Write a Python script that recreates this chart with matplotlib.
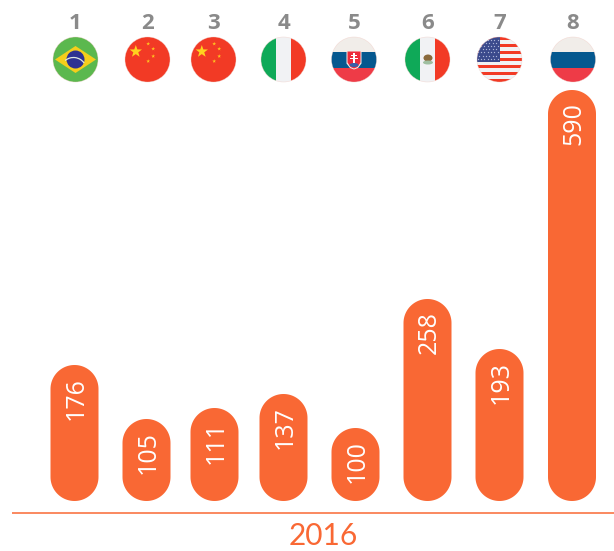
import numpy as np
import matplotlib
matplotlib.use("Agg")
import matplotlib.pyplot as plt
from matplotlib.patches import Circle, Polygon, Rectangle, Ellipse, Arc

ranks = ["1", "2", "3", "4", "5", "6", "7", "8"]
flags = ["brazil", "china", "china", "italy", "slovakia", "mexico", "usa", "russia"]
values = [176, 105, 111, 137, 100, 258, 193, 590]
# Bar heights (the original is not strictly proportional)
bar_heights = [136, 82, 93, 107, 73, 202, 152, 411]
year = "2016"

bar_x = [74.5, 146.5, 214.5, 283.5, 355.5, 427.5, 499.5, 572]
flag_x = [75.5, 147.5, 213.5, 283.5, 354, 427.5, 499.5, 573]
BASE = 501
BAR_W = 48
FLAG_Y = 59.5
R = 22.5
ORANGE = "#F96834"
GRAY = "#8A8A8A"
RED = "#F23A25"
GREEN = "#0FA958"
WHITE = "#F1F2F4"
BLUE = "#05588F"
FONT = "Open Sans"

fig = plt.figure(figsize=(6.14, 5.51), dpi=100)
ax = fig.add_axes([0, 0, 1, 1])
ax.set_xlim(0, 614)
ax.set_ylim(551, 0)
ax.axis("off")


def pill(x, top, bottom, w, color):
    r = w / 2
    a = np.linspace(np.pi, 2 * np.pi, 60)
    upper = np.c_[x + r * np.cos(a), top + r + r * np.sin(a)]
    a2 = np.linspace(0, np.pi, 60)
    lower = np.c_[x + r * np.cos(a2), bottom - r + r * np.sin(a2)]
    return Polygon(np.r_[upper, lower], closed=True, fc=color, ec="none", zorder=2)


def star(cx, cy, r, color, z):
    ang = -np.pi / 2 + np.arange(10) * np.pi / 5
    rad = np.where(np.arange(10) % 2 == 0, r, r * 0.4)
    return Polygon(np.c_[cx + rad * np.cos(ang), cy + rad * np.sin(ang)],
                   closed=True, fc=color, ec="none", zorder=z)


def add(clip, *patches):
    for p in patches:
        ax.add_patch(p)
        p.set_clip_path(clip)


def rect(x0, y0, x1, y1, c, z=3):
    return Rectangle((x0, y0), x1 - x0, y1 - y0, fc=c, ec="none", zorder=z)


def draw_flag(kind, cx, cy):
    clip = Circle((cx, cy), R, transform=ax.transData)
    L, T = cx - R - 1, cy - R - 1
    Rt, B = cx + R + 1, cy + R + 1
    if kind == "brazil":
        add(clip, rect(L, T, Rt, B, "#5BB84E"),
            Polygon([(cx - 20.5, cy), (cx, cy - 13.5), (cx + 20.5, cy), (cx, cy + 13.5)],
                    fc="#F5CE1B", ec="none", zorder=4),
            Circle((cx, cy), 9, fc="#2E3192", ec="none", zorder=5),
            Arc((cx - 2, cy + 11), 26, 26, theta1=-130, theta2=-35, color="#DDE8E0", lw=0.9, zorder=6))
    elif kind == "china":
        add(clip, rect(L, T, Rt, B, RED), star(cx - 11.7, cy - 8, 6.5, "#FFD21F", 4))
        for dx, dy in [(0.7, -15.7), (5.7, -10.7), (5.7, -3.3), (0.7, 1.7)]:
            add(clip, star(cx + dx, cy + dy, 2, "#FFC21F", 4))
    elif kind in ("italy", "mexico"):
        add(clip, rect(L, T, cx - 7.5, B, GREEN), rect(cx - 7.5, T, cx + 7.5, B, WHITE),
            rect(cx + 7.5, T, Rt, B, RED))
        if kind == "mexico":
            add(clip, Ellipse((cx + 0.5, cy - 1.5), 9, 7, fc="#8A6A3C", ec="none", zorder=5),
                Ellipse((cx + 0.5, cy + 3), 10, 4, fc="#9FBFA0", ec="none", zorder=5))
    elif kind in ("slovakia", "russia"):
        add(clip, rect(L, T, Rt, cy - 7.5, "#F1EDE9"), rect(L, cy - 7.5, Rt, cy + 8, BLUE),
            rect(L, cy + 8, Rt, B, "#EE3B47"))
        if kind == "slovakia":
            add(clip,
                Polygon([(cx - 7.5, cy - 9), (cx + 7.5, cy - 9), (cx + 7.5, cy + 4),
                         (cx + 4, cy + 8.5), (cx, cy + 10), (cx - 4, cy + 8.5), (cx - 7.5, cy + 4)],
                        fc="#F1EDE9", ec="none", zorder=4),
                Polygon([(cx - 6.5, cy - 8), (cx + 6.5, cy - 8), (cx + 6.5, cy + 3),
                         (cx + 3.5, cy + 7.5), (cx, cy + 9), (cx - 3.5, cy + 7.5), (cx - 6.5, cy + 3)],
                        fc="#EE2A3A", ec="none", zorder=5),
                rect(cx - 0.8, cy - 6.5, cx + 0.8, cy + 3.5, "white", 6),
                rect(cx - 3, cy - 4.5, cx + 3, cy - 3.2, "white", 6),
                rect(cx - 4, cy - 1.5, cx + 4, cy - 0.2, "white", 6),
                Ellipse((cx, cy + 5.5), 9, 4, fc="#3A5FA8", ec="none", zorder=6))
    elif kind == "usa":
        add(clip, rect(L, T, Rt, B, WHITE))
        h = 2 * R / 13
        for i in range(0, 13, 2):
            add(clip, rect(L, cy - R + i * h, Rt, cy - R + (i + 1) * h, RED, 4))
        add(clip, rect(L, T, cx, cy + 2, "#3B4A8C", 5))
        for row, yy in enumerate(np.arange(cy - 20, cy + 1.5, 3.2)):
            xs = np.arange(cx - 22 + (row % 2) * 1.7, cx - 0.5, 3.4)
            pts = ax.scatter(xs, np.full_like(xs, yy), s=0.9, c="#AEB6D8", linewidths=0, zorder=6)
            pts.set_clip_path(clip)
    ring = Circle((cx, cy), R, fc="none", ec="#F0C8C0", lw=0.4, alpha=0.6, zorder=7)
    ax.add_patch(ring)


for x, fx, rank, kind, val, h in zip(bar_x, flag_x, ranks, flags, values, bar_heights):
    top = BASE - h
    ax.add_patch(pill(x, top, BASE, BAR_W, ORANGE))
    ax.text(x + 2, top + 34, str(val), rotation=90, color="white", fontsize=18, family=FONT,
            ha="center", va="center", zorder=3)
    ax.text(fx, 23.5, rank, color=GRAY, fontsize=16, family=FONT, fontweight="bold",
            ha="center", va="center", zorder=3)
    draw_flag(kind, fx, FLAG_Y)

ax.plot([12, 614], [512.5, 512.5], color=ORANGE, lw=1.1, zorder=1, solid_capstyle="butt")
ax.text(323, 545, year, color=ORANGE, fontsize=21.5, family="Lato", ha="center", va="baseline")

fig.savefig("out.png", dpi=100, facecolor="white")
